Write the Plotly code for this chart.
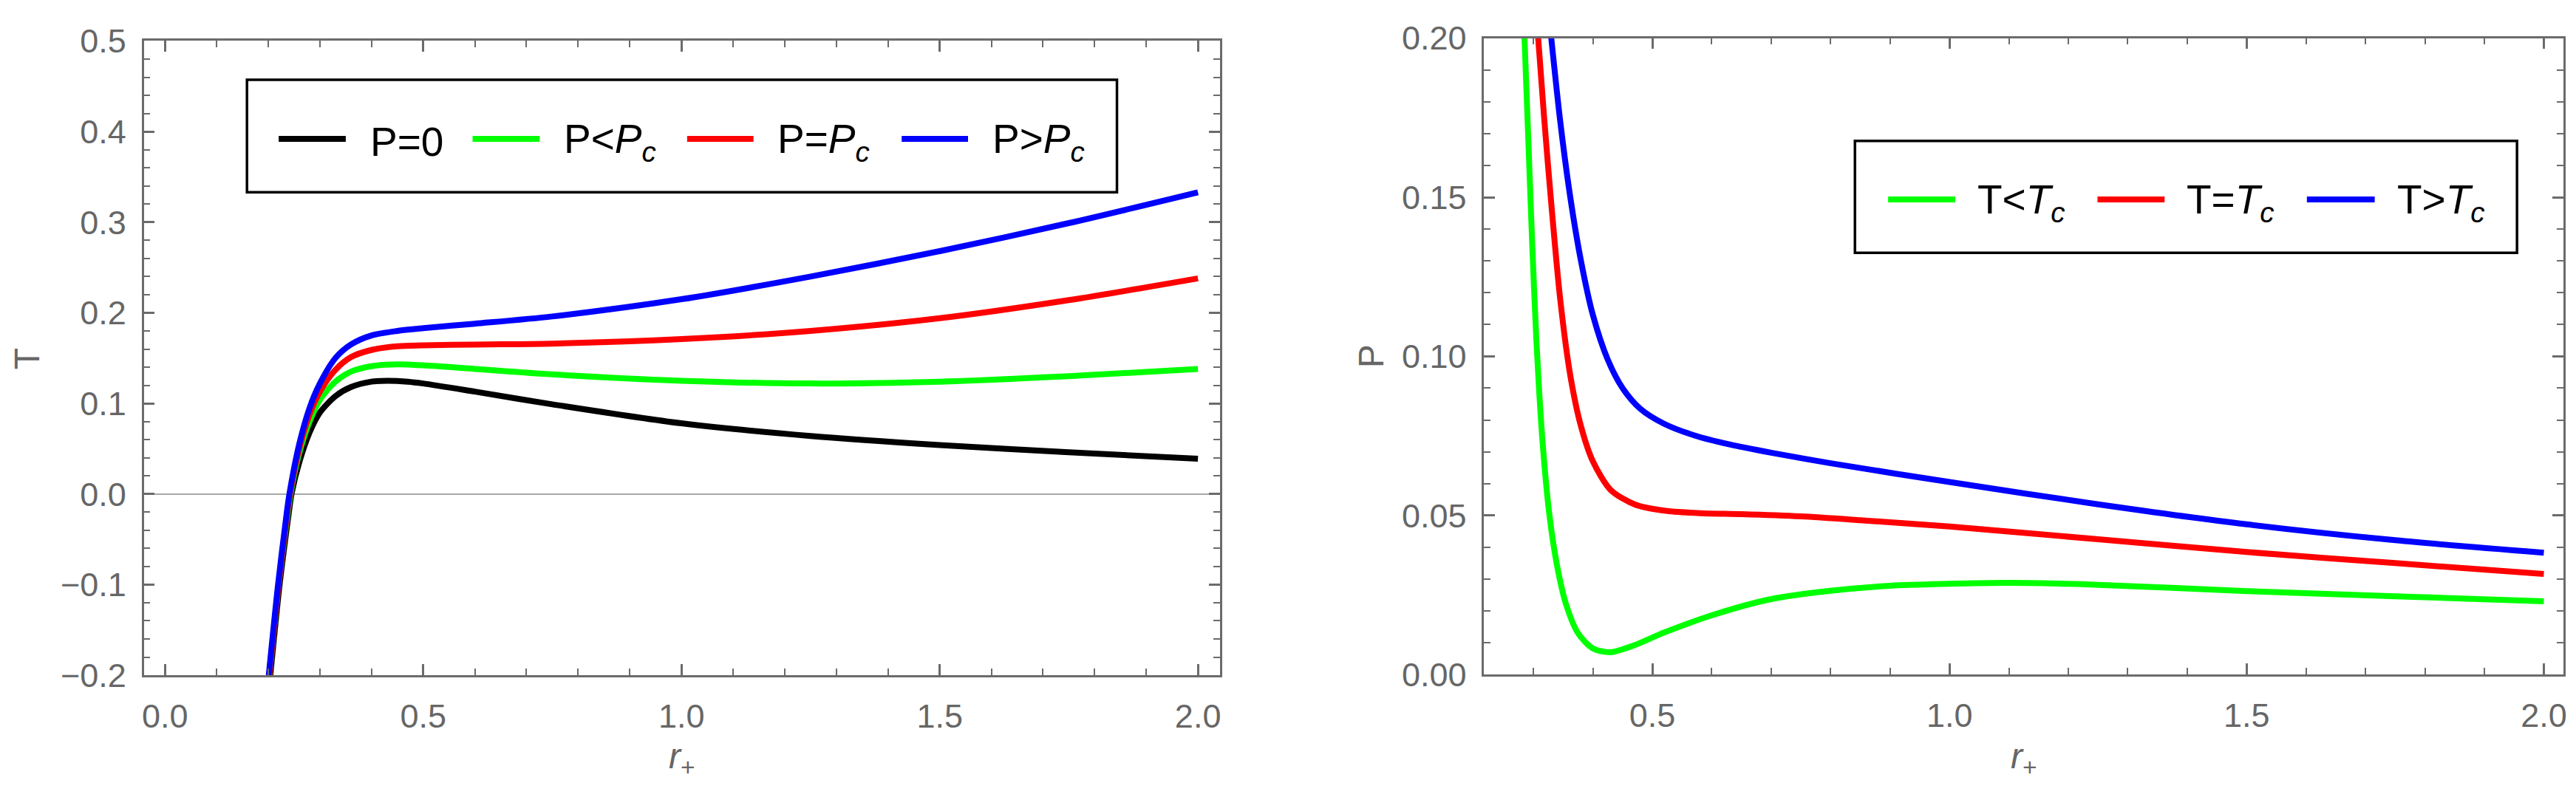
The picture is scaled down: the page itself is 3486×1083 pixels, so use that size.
import plotly.graph_objects as go
from plotly.subplots import make_subplots

# left panel: T vs r+ for four pressures
r_black = [0.204, 0.222, 0.24, 0.245, 0.26, 0.28, 0.30, 0.33, 0.36, 0.40, 0.43, 0.47, 0.5, 0.6, 0.75, 1.0, 1.25, 1.5, 1.75, 2.0]
t_black = [-0.2, -0.1, -0.02, 0.0, 0.035, 0.068, 0.09, 0.108, 0.118, 0.124, 0.125, 0.124, 0.122, 0.113, 0.099, 0.078, 0.064, 0.054, 0.046, 0.039]

r_green = [0.202, 0.22, 0.238, 0.243, 0.26, 0.28, 0.30, 0.33, 0.36, 0.40, 0.45, 0.5, 0.6, 0.75, 1.0, 1.25, 1.5, 1.75, 2.0]
t_green = [-0.2, -0.1, -0.02, 0.0, 0.045, 0.08, 0.104, 0.124, 0.135, 0.141, 0.143, 0.142, 0.138, 0.132, 0.125, 0.122, 0.124, 0.130, 0.138]

r_red = [0.202, 0.22, 0.237, 0.242, 0.26, 0.28, 0.30, 0.33, 0.36, 0.40, 0.45, 0.5, 0.6, 0.75, 1.0, 1.25, 1.5, 1.75, 2.0]
t_red = [-0.2, -0.1, -0.02, 0.0, 0.05, 0.088, 0.113, 0.137, 0.151, 0.159, 0.163, 0.164, 0.165, 0.166, 0.171, 0.18, 0.194, 0.214, 0.238]

r_blue = [0.201, 0.219, 0.236, 0.241, 0.26, 0.28, 0.30, 0.33, 0.36, 0.40, 0.45, 0.5, 0.6, 0.75, 1.0, 1.25, 1.5, 1.75, 2.0]
t_blue = [-0.2, -0.1, -0.02, 0.0, 0.055, 0.095, 0.122, 0.15, 0.165, 0.175, 0.180, 0.183, 0.188, 0.196, 0.215, 0.24, 0.268, 0.299, 0.333]

# right panel: P vs r+ for three temperatures
r_tlow = [0.285, 0.292, 0.298, 0.305, 0.315, 0.327, 0.34, 0.355, 0.375, 0.40, 0.43, 0.47, 0.52, 0.6, 0.7, 0.8, 0.9, 1.0, 1.1, 1.25, 1.5, 1.75, 2.0]
p_tlow = [0.2, 0.165, 0.135, 0.105, 0.074, 0.05, 0.034, 0.022, 0.013, 0.0082, 0.007, 0.0092, 0.0132, 0.0186, 0.0237, 0.0263, 0.0279, 0.0285, 0.0288, 0.0282, 0.0262, 0.0246, 0.023]

r_tc = [0.308, 0.318, 0.33, 0.345, 0.362, 0.38, 0.40, 0.43, 0.47, 0.52, 0.58, 0.65, 0.75, 0.85, 1.0, 1.25, 1.5, 1.75, 2.0]
p_tc = [0.2, 0.175, 0.148, 0.118, 0.094, 0.078, 0.067, 0.058, 0.0535, 0.0515, 0.0507, 0.0504, 0.0497, 0.0485, 0.0465, 0.0425, 0.0385, 0.035, 0.0316]

r_thigh = [0.33, 0.345, 0.362, 0.38, 0.40, 0.425, 0.45, 0.48, 0.52, 0.57, 0.63, 0.7, 0.8, 1.0, 1.25, 1.5, 1.75, 2.0]
p_thigh = [0.2, 0.174, 0.15, 0.13, 0.113, 0.099, 0.09, 0.0835, 0.0788, 0.0752, 0.0723, 0.0697, 0.0664, 0.0605, 0.0535, 0.0472, 0.0422, 0.0383]

left_names = ["P=0", "P&lt;<i>P<sub>c</sub></i>", "P=<i>P<sub>c</sub></i>", "P&gt;<i>P<sub>c</sub></i>"]
right_names = ["T&lt;<i>T<sub>c</sub></i>", "T=<i>T<sub>c</sub></i>", "T&gt;<i>T<sub>c</sub></i>"]
left_colors = ["#000000", "#00ff00", "#ff0000", "#0000ff"]
right_colors = ["#00ff00", "#ff0000", "#0000ff"]

W, H = 3486, 1083
FRAME = "#6b6b6b"
LABEL = "#666666"
FONT = "Liberation Sans"
LW = 8


def px(x):
    return x / W


def py(y):
    return 1 - y / H


fig = make_subplots(rows=1, cols=2)

left_data = [(r_black, t_black), (r_green, t_green), (r_red, t_red), (r_blue, t_blue)]
for (xs, ys), c in zip(left_data, left_colors):
    fig.add_trace(go.Scatter(x=xs, y=ys, mode="lines", line=dict(color=c, width=LW, shape="spline", smoothing=0.8),
                             showlegend=False, hoverinfo="skip"), row=1, col=1)

right_data = [(r_tlow, p_tlow), (r_tc, p_tc), (r_thigh, p_thigh)]
for (xs, ys), c in zip(right_data, right_colors):
    fig.add_trace(go.Scatter(x=xs, y=ys, mode="lines", line=dict(color=c, width=LW, shape="spline", smoothing=0.8),
                             showlegend=False, hoverinfo="skip"), row=1, col=2)

axis_common = dict(
    showline=True, linecolor=FRAME, linewidth=2.5, mirror="allticks",
    ticks="inside", ticklen=15, tickwidth=2.5, tickcolor=FRAME,
    showgrid=False, tickfont=dict(family=FONT, size=45, color=LABEL),
)
minor_common = dict(ticks="inside", ticklen=9, tickwidth=2, tickcolor=FRAME, showgrid=False)

fig.update_xaxes(**axis_common, row=1, col=1, domain=[px(192), px(1652)], range=[-0.041, 2.043],
                 tick0=0, dtick=0.5, tickformat=".1f", minor=dict(dtick=0.1, **minor_common),
                 zeroline=False, ticklabelstandoff=14)
fig.update_yaxes(**axis_common, row=1, col=1, domain=[py(933), py(32)], range=[-0.2, 0.5],
                 tick0=0, dtick=0.1, tickformat=".1f", minor=dict(dtick=0.02, **minor_common),
                 zeroline=True, zerolinecolor="#a8a8a8", zerolinewidth=1.5, ticklabelstandoff=12)
fig.update_xaxes(**axis_common, row=1, col=2, domain=[px(2010), px(3474)], range=[0.217, 2.033],
                 tick0=0, dtick=0.5, tickformat=".1f", minor=dict(tick0=0, dtick=0.1, **minor_common),
                 zeroline=False, ticklabelstandoff=14)
fig.update_yaxes(**axis_common, row=1, col=2, domain=[py(932), py(28)], range=[0, 0.2],
                 tick0=0, dtick=0.05, tickformat=".2f", minor=dict(dtick=0.01, **minor_common),
                 zeroline=False, ticklabelstandoff=12)

shapes = []
annotations = []

# axis titles
title_font = dict(family=FONT, size=48, color=LABEL)
annotations.append(dict(xref="paper", yref="paper", x=px(33), y=py(483), xanchor="center", yanchor="middle",
                        text="T", textangle=-90, showarrow=False, font=title_font))
annotations.append(dict(xref="paper", yref="paper", x=px(1857), y=py(480), xanchor="center", yanchor="middle",
                        text="P", textangle=-90, showarrow=False, font=title_font))
for cx in (922, 2742):
    annotations.append(dict(xref="paper", yref="paper", x=px(cx), y=py(1052), xanchor="center", yanchor="middle",
                            text="<i>r</i><sub>+</sub>", showarrow=False, font=title_font))


# hand-drawn legends, to get the long line samples of the original
def add_legend(box, cy, line_x, text_x, names, colors):
    x0, x1, y0, y1 = box
    shapes.append(dict(type="rect", xref="paper", yref="paper", x0=px(x0), x1=px(x1), y0=py(y1), y1=py(y0),
                       line=dict(color="black", width=3.5), fillcolor="white", layer="above"))
    for (lx0, lx1), tx, name, c in zip(line_x, text_x, names, colors):
        shapes.append(dict(type="line", xref="paper", yref="paper", x0=px(lx0), x1=px(lx1), y0=py(cy), y1=py(cy),
                           line=dict(color=c, width=LW), layer="above"))
        annotations.append(dict(xref="paper", yref="paper", x=px(tx), y=py(cy + 4), xanchor="left", yanchor="middle",
                                text=name, showarrow=False, font=dict(family=FONT, size=55, color="black")))


add_legend((332, 1512, 87, 247), 171,
           [(375, 466), (638, 729), (929, 1019), (1220, 1310)], [497, 760, 1049, 1341],
           left_names, left_colors)
add_legend((2513, 3411, 174, 333), 257,
           [(2558, 2649), (2842, 2933), (3126, 3218)], [2677, 2961, 3246],
           right_names, right_colors)

fig.update_layout(
    width=W, height=H,
    margin=dict(l=0, r=0, t=0, b=0),
    paper_bgcolor="white", plot_bgcolor="white",
    shapes=shapes, annotations=annotations,
    showlegend=False,
)

# the page body has an 8px default margin; drop it so the figure sits at the window's corner
fig.write_html("out.html", config={"displayModeBar": False},
               post_script="document.body.style.margin='0px'; document.body.style.overflow='hidden';")
